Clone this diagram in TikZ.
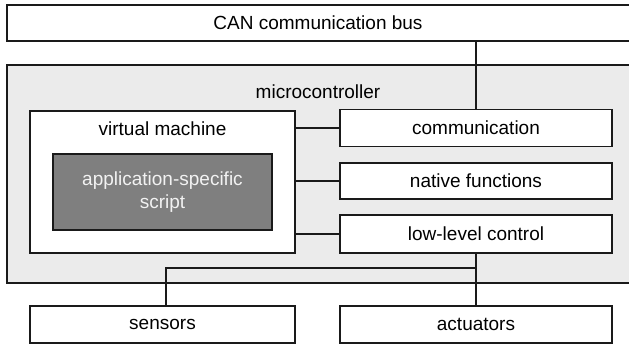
\documentclass[tikz,border=0pt]{standalone}
\usepackage{fontspec}
\setmainfont{Liberation Sans}
\definecolor{edge}{HTML}{1A1A1A}
\definecolor{mcfill}{HTML}{EBEBEB}
\definecolor{scriptfill}{HTML}{7F7F7F}
\definecolor{scripttext}{HTML}{F2F2F2}
\begin{document}
\begin{tikzpicture}[x=1pt,y=-1pt,
  box/.style={draw=edge, line width=1.3pt, rectangle, inner sep=0pt, fill=white},
  lbl/.style={inner sep=0pt, font=\fontsize{19}{23}\selectfont, text=black},
  wire/.style={draw=edge, line width=1.3pt}]
  \useasboundingbox (0,0) rectangle (629,345);
  % bus and microcontroller frame run out past the right edge
  \node[box, minimum width=624pt, minimum height=36pt] (can) at (319,23) {};
  \node[lbl] (cantext) at (318,23) {CAN communication bus};
  \node[box, fill=mcfill, minimum width=624pt, minimum height=218pt] (mc) at (319,174) {};
  \node[lbl] (mctext) at (318,92) {microcontroller};
  % virtual machine with its script
  \node[box, minimum width=265pt, minimum height=142pt] (vm) at (162.5,182) {};
  \node[lbl] (vmtext) at (162.5,129) {virtual machine};
  \node[box, fill=scriptfill, minimum width=219pt, minimum height=76pt,
        lbl, text=scripttext, align=center] (script) at (162.5,192)
        {application-specific\\script};
  % service blocks
  \node[box, lbl, minimum width=272pt, minimum height=37pt] (comm) at (476,128) {communication};
  \node[box, lbl, minimum width=272pt, minimum height=36pt] (native) at (476,181) {native functions};
  \node[box, lbl, minimum width=272pt, minimum height=38pt] (llc) at (476,234) {low-level control};
  % peripherals
  \node[box, lbl, minimum width=265pt, minimum height=37pt] (sensors) at (162.5,324.5) {sensors};
  \node[box, lbl, minimum width=272pt, minimum height=37pt] (act) at (476,324.5) {actuators};
  % connections
  \draw[wire] (comm.north) -- (comm.north |- can.south);
  \draw[wire] (comm.west) -- (comm.west -| vm.east);
  \draw[wire] (native.west) -- (native.west -| vm.east);
  \draw[wire] (llc.west) -- (llc.west -| vm.east);
  \draw[wire] (llc.south) -- (act.north);
  \coordinate (junction) at (476,268);
  \coordinate (bend) at (166,268);
  \draw[wire] (junction) -- (bend) -- (bend |- sensors.north);
\end{tikzpicture}
\end{document}
